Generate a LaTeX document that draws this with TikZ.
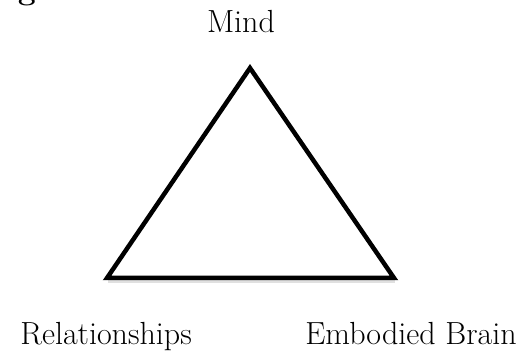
\documentclass[tikz,border=0pt]{standalone}
\usepackage{tikz}
\usetikzlibrary{positioning,calc}

\begin{document}
\begin{tikzpicture}[
  x=1pt,y=-1pt,
  lbl/.style={font=\fontsize{32}{38}\selectfont,inner sep=0pt,anchor=base},
  side/.style={line width=4.5pt,line join=miter},
  shade/.style={line width=5pt,draw=black!12}
]
\useasboundingbox (0,0) rectangle (525,352);

% corners of the triangle
\coordinate (mind) at (250,68);
\coordinate (rel)  at (107,278);
\coordinate (body) at (394,278);

\node[font=\fontsize{32}{38}\selectfont\bfseries,inner sep=0pt,anchor=base] (fig) at (27,0) {g};

\draw[shade] ($(rel)+(1,2.5)$) -- ($(body)+(1,2.5)$);
\draw[side] (mind) -- (rel) -- (body) -- cycle;

\node[lbl] (mindlbl) at (241,33) {Mind};
\node[lbl] (rellbl)  at (106,345) {Relationships};
\node[lbl] (bodylbl) at (411,345) {Embodied Brain};
\end{tikzpicture}
\end{document}
